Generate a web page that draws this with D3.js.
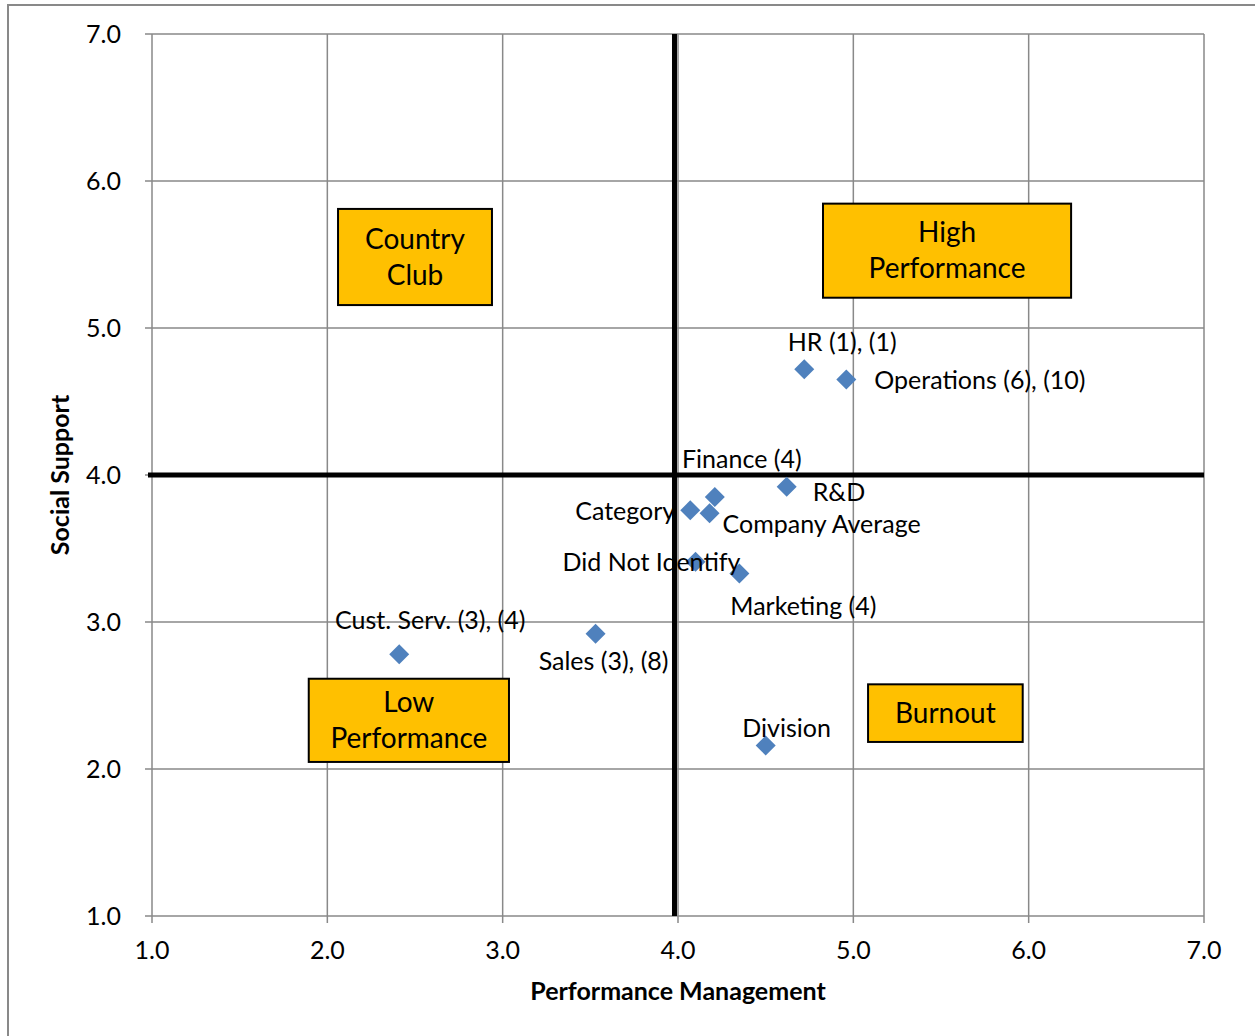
<!DOCTYPE html>
<html>
<head>
<meta charset="utf-8">
<script src="https://cdn.jsdelivr.net/npm/d3@7"></script>
<style>
  html, body { margin: 0; padding: 0; background: #fff; }
  svg { display: block; font-family: Lato, "Open Sans", sans-serif; }
</style>
</head>
<body>
<svg id="chart" width="1255" height="1036"></svg>
<script>
// Department scores: Performance Management (x) vs Social Support (y)
const groups = ["HR (1), (1)", "Operations (6), (10)", "Finance (4)", "R&D", "Category",
                "Company Average", "Did Not Identify", "Marketing (4)", "Sales (3), (8)",
                "Cust. Serv. (3), (4)", "Division"];
const performanceManagement = [4.72, 4.96, 4.21, 4.62, 4.07, 4.18, 4.10, 4.35, 3.53, 2.41, 4.50];
const socialSupport         = [4.72, 4.65, 3.85, 3.92, 3.76, 3.74, 3.41, 3.33, 2.92, 2.78, 2.16];

// Axis ticks
const xTicks = [1, 2, 3, 4, 5, 6, 7];
const yTicks = [1, 2, 3, 4, 5, 6, 7];

// Quadrant dividers
const dividerX = 3.98;
const dividerY = 4.0;

// Quadrant names
const quadrantNames = [["Country", "Club"], ["High", "Performance"], ["Low", "Performance"], ["Burnout"]];

// ---- layout ----
const W = 1255, H = 1036;
const plot = { left: 152, right: 1204, top: 34, bottom: 916 };

// label placement per point: [dx, dy (to text centre), anchor]
const labelPlacement = [
  [38, -27, "middle"], [28, 1, "start"], [27, -38, "middle"], [26, 5, "start"],
  [-15, 1, "end"], [13, 11, "start"], [-44, 1, "middle"], [64, 33, "middle"],
  [8, 27, "middle"], [31, -34, "middle"], [21, -17, "middle"]
];
// quadrant boxes in data units: [x0, x1, yTop, yBottom]
const quadrantBoxes = [
  [2.061, 2.939, 5.810, 5.156],
  [4.827, 6.242, 5.846, 5.206],
  [1.894, 3.036, 2.614, 2.048],
  [5.084, 5.966, 2.576, 2.184]
];

const svg = d3.select("#chart");
const x = d3.scaleLinear().domain([1, 7]).range([plot.left, plot.right]);
const y = d3.scaleLinear().domain([1, 7]).range([plot.bottom, plot.top]);

const gridColor = "#898989";
const labelSize = 25;
const baseShift = 0.35 * labelSize;

// outer frame
svg.append("path")
  .attr("d", `M8,${H} V5 H${W}`)
  .attr("fill", "none").attr("stroke", gridColor).attr("stroke-width", 2);

// gridlines
const grid = svg.append("g");
grid.selectAll("line.v").data(xTicks).join("line")
  .attr("x1", d => x(d)).attr("x2", d => x(d))
  .attr("y1", plot.top).attr("y2", plot.bottom + 7)
  .attr("stroke", gridColor).attr("stroke-width", 1.5);
grid.selectAll("line.h").data(yTicks).join("line")
  .attr("x1", plot.left - 7).attr("x2", plot.right)
  .attr("y1", d => y(d)).attr("y2", d => y(d))
  .attr("stroke", gridColor).attr("stroke-width", 1.5);

// tick labels
svg.append("g").selectAll("text").data(yTicks).join("text")
  .attr("x", plot.left - 31).attr("y", d => y(d) + baseShift)
  .attr("text-anchor", "end").attr("font-size", labelSize).attr("fill", "#000")
  .text(d3.format(".1f"));
svg.append("g").selectAll("text").data(xTicks).join("text")
  .attr("x", d => x(d)).attr("y", plot.bottom + 34 + baseShift)
  .attr("text-anchor", "middle").attr("font-size", labelSize).attr("fill", "#000")
  .text(d3.format(".1f"));

// axis titles
svg.append("text")
  .attr("x", (plot.left + plot.right) / 2).attr("y", 991 + baseShift)
  .attr("text-anchor", "middle").attr("font-size", labelSize).attr("font-weight", "bold")
  .text("Performance Management");
svg.append("text")
  .attr("transform", `translate(${60 + baseShift},${(plot.top + plot.bottom) / 2}) rotate(-90)`)
  .attr("text-anchor", "middle").attr("font-size", labelSize).attr("font-weight", "bold")
  .text("Social Support");

// quadrant dividers
svg.append("line")
  .attr("x1", x(dividerX)).attr("x2", x(dividerX))
  .attr("y1", y(7)).attr("y2", y(1))
  .attr("stroke", "#000").attr("stroke-width", 5);
svg.append("line")
  .attr("x1", plot.left - 4).attr("x2", x(7))
  .attr("y1", y(dividerY)).attr("y2", y(dividerY))
  .attr("stroke", "#000").attr("stroke-width", 5);

// quadrant boxes
const boxSize = 28;
const boxes = svg.append("g").selectAll("g").data(quadrantNames).join("g");
boxes.append("rect")
  .attr("x", (d, i) => x(quadrantBoxes[i][0]))
  .attr("y", (d, i) => y(quadrantBoxes[i][2]))
  .attr("width", (d, i) => x(quadrantBoxes[i][1]) - x(quadrantBoxes[i][0]))
  .attr("height", (d, i) => y(quadrantBoxes[i][3]) - y(quadrantBoxes[i][2]))
  .attr("fill", "#FFC000").attr("stroke", "#000").attr("stroke-width", 2);
boxes.each(function (lines, i) {
  const b = quadrantBoxes[i];
  const cx = (x(b[0]) + x(b[1])) / 2;
  const cy = (y(b[2]) + y(b[3])) / 2;
  const lh = 36;
  d3.select(this).selectAll("text").data(lines).join("text")
    .attr("x", cx)
    .attr("y", (d, j) => cy + (j - (lines.length - 1) / 2) * lh + 0.35 * boxSize)
    .attr("text-anchor", "middle").attr("font-size", boxSize).attr("fill", "#000")
    .text(d => d);
});

// points
const pts = groups.map((g, i) => ({ name: g, px: performanceManagement[i], sy: socialSupport[i], i }));
const r = 10;
svg.append("g").selectAll("path").data(pts).join("path")
  .attr("d", d => `M${x(d.px)},${y(d.sy) - r} L${x(d.px) + r},${y(d.sy)} L${x(d.px)},${y(d.sy) + r} L${x(d.px) - r},${y(d.sy)} Z`)
  .attr("fill", "#4F81BD");

// point labels
svg.append("g").selectAll("text").data(pts).join("text")
  .attr("x", d => x(d.px) + labelPlacement[d.i][0])
  .attr("y", d => y(d.sy) + labelPlacement[d.i][1] + baseShift)
  .attr("text-anchor", d => labelPlacement[d.i][2])
  .attr("font-size", labelSize).attr("fill", "#000")
  .text(d => d.name);
</script>
</body>
</html>
